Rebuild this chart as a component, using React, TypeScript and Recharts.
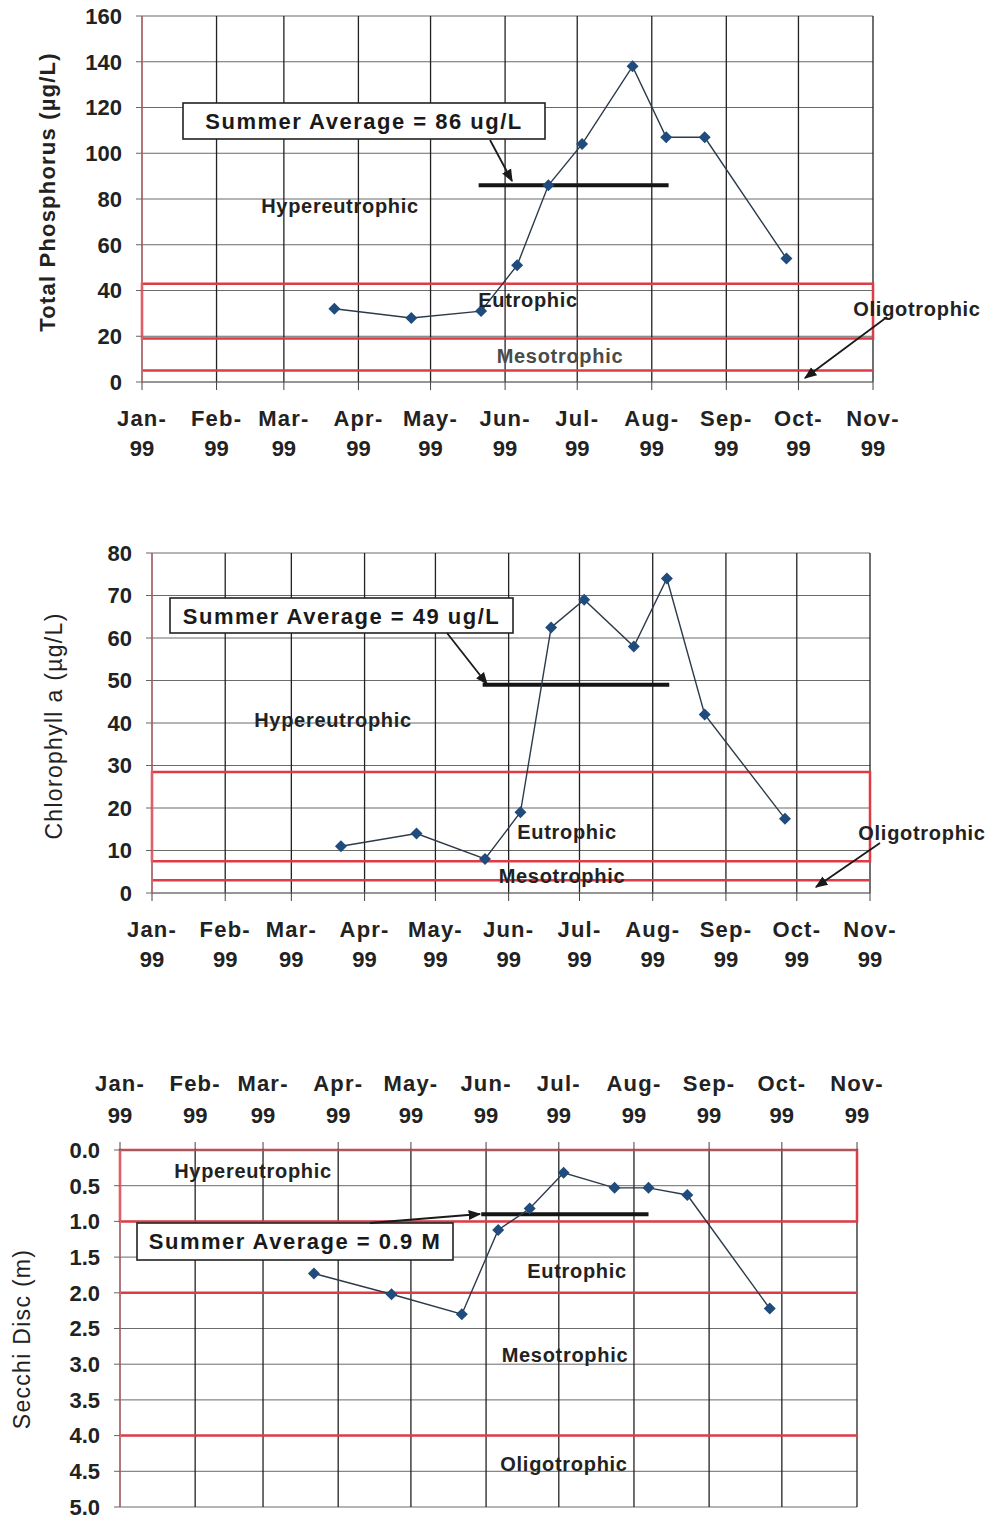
import React from "react";
import {
  LineChart,
  Line,
  XAxis,
  YAxis,
  CartesianGrid,
  ReferenceLine,
  ReferenceArea,
} from "recharts";

const FONT = '"Liberation Sans", Arial, Helvetica, sans-serif';
const RED = "#dd3b46";

// sampling dates as day of 1999 (0 = Jan 1)
const sampleDays = [80, 112, 141, 156, 169, 183, 204, 218, 234, 268];
const phosphorus = [32, 28, 31, 51, 86, 104, 138, 107, 107, 54];
const chlorophyll = [11, 14, 8, 19, 62.5, 69, 58, 74, 42, 17.5];
const secchi = [1.73, 2.02, 2.3, 1.12, 0.82, 0.32, 0.53, 0.53, 0.63, 2.22];

const monthStarts = [0, 31, 59, 90, 120, 151, 181, 212, 243, 273, 304];
const monthNames = ["Jan", "Feb", "Mar", "Apr", "May", "Jun", "Jul", "Aug", "Sep", "Oct", "Nov"];
const yearLabel = "99";

const tpTicks = [0, 20, 40, 60, 80, 100, 120, 140, 160];
const chlTicks = [0, 10, 20, 30, 40, 50, 60, 70, 80];
const secchiTicks = [0, 0.5, 1, 1.5, 2, 2.5, 3, 3.5, 4, 4.5, 5];

// trophic boundaries: [oligo/meso, meso/eu, eu/hyper]
const tpBounds = [5, 19, 43];
const chlBounds = [3, 7.5, 28.5];
const secchiBounds = [4, 2, 1];

const tpSummer = 86;
const chlSummer = 49;
const secchiSummer = 0.9;
const summerSpan = [140, 219];
const secchiSummerSpan = [149, 218];

const rows = (values: number[]) => sampleDays.map((day, i) => ({ day, value: values[i] }));

function MonthTick(props: any) {
  const { x, y, payload, top } = props;
  const i = monthStarts.indexOf(payload.value);
  const d1 = top ? -51 : 36;
  const d2 = top ? -19 : 66;
  const style = { fontFamily: FONT, fontWeight: 700, fontSize: 22, fill: "#222" };
  return (
    <g>
      <text x={x} y={y + d1} textAnchor="middle" letterSpacing={1.2} {...style}>
        {monthNames[i]}-
      </text>
      <text x={x} y={y + d2} textAnchor="middle" {...style}>
        {yearLabel}
      </text>
    </g>
  );
}

function Diamond(props: any) {
  const { cx, cy } = props;
  if (cx == null || cy == null) return <g />;
  const r = 6;
  return <path d={`M${cx},${cy - r}L${cx + r},${cy}L${cx},${cy + r}L${cx - r},${cy}Z`} fill="#1f4c7c" />;
}

type ChartProps = {
  top: number;
  height: number;
  margin: { top: number; right: number; bottom: number; left: number };
  yWidth: number;
  xHeight: number;
  xTop?: boolean;
  reversed?: boolean;
  domain: [number, number];
  ticks: number[];
  values: number[];
  box: [number, number];
  lines: number[];
  summer: number;
  span: number[];
  fmt?: (v: number) => string;
};

function TrophicChart(p: ChartProps) {
  return (
    <div style={{ position: "absolute", left: 0, top: p.top }}>
      <LineChart width={989} height={p.height} data={rows(p.values)} margin={p.margin}>
        <CartesianGrid horizontal={true} vertical={false} stroke="#6a6a6a" strokeWidth={1} />
        <CartesianGrid horizontal={false} vertical={true} stroke="#222" strokeWidth={1.3} />
        <XAxis
          dataKey="day"
          type="number"
          domain={[0, 304]}
          ticks={monthStarts}
          interval={0}
          orientation={p.xTop ? "top" : "bottom"}
          height={p.xHeight}
          tickSize={8}
          tickMargin={0}
          axisLine={{ stroke: "#777" }}
          tickLine={{ stroke: "#444" }}
          tick={(t: any) => <MonthTick {...t} top={p.xTop} />}
        />
        <YAxis
          type="number"
          domain={p.domain}
          ticks={p.ticks}
          interval={0}
          reversed={p.reversed}
          width={p.yWidth}
          tickSize={6}
          tickMargin={14}
          axisLine={{ stroke: "#e07a80", strokeWidth: 1.2 }}
          tickLine={{ stroke: "#666" }}
          tickFormatter={p.fmt}
          tick={{ fontFamily: FONT, fontWeight: 700, fontSize: 22, fill: "#222" }}
        />
        <ReferenceArea y1={p.box[0]} y2={p.box[1]} fill="none" stroke={RED} strokeWidth={2.5} />
        {p.lines.map((v) => (
          <ReferenceLine key={v} y={v} stroke={RED} strokeWidth={2.5} />
        ))}
        <ReferenceLine
          segment={[
            { x: p.span[0], y: p.summer },
            { x: p.span[1], y: p.summer },
          ]}
          stroke="#151515"
          strokeWidth={4}
        />
        <Line
          dataKey="value"
          stroke="#2c3a4a"
          strokeWidth={1.4}
          isAnimationActive={false}
          dot={(d: any) => <Diamond key={d.index} cx={d.cx} cy={d.cy} />}
        />
      </LineChart>
    </div>
  );
}

const noteStyle = { fontFamily: FONT, fontWeight: 700, fontSize: 20, fill: "#222", letterSpacing: 0.7 } as const;
const boxText = { fontFamily: FONT, fontWeight: 700, fontSize: 22, fill: "#1a1a1a", letterSpacing: 1.5 } as const;

function Note({ x, y, t, fill }: { x: number; y: number; t: string; fill?: string }) {
  return (
    <text x={x} y={y} textAnchor="middle" {...noteStyle} fill={fill || "#222"}>
      {t}
    </text>
  );
}

function AvgBox({ x, y, w, h, t, base }: { x: number; y: number; w: number; h: number; t: string; base: number }) {
  return (
    <g>
      <rect x={x} y={y} width={w} height={h} fill="#fff" stroke="#222" strokeWidth={1.6} />
      <text x={x + w / 2} y={base} textAnchor="middle" {...boxText}>
        {t}
      </text>
    </g>
  );
}

function Arrow({ x1, y1, x2, y2 }: { x1: number; y1: number; x2: number; y2: number }) {
  return <line x1={x1} y1={y1} x2={x2} y2={y2} stroke="#1a1a1a" strokeWidth={1.8} markerEnd="url(#ah)" />;
}

export default function App() {
  return (
    <div style={{ position: "absolute", left: 0, top: 0, width: 989, height: 1519, background: "#fff", overflow: "hidden" }}>
      <TrophicChart
        top={0}
        height={480}
        margin={{ top: 16, right: 116, bottom: 0, left: 0 }}
        yWidth={142}
        xHeight={98}
        domain={[0, 160]}
        ticks={tpTicks}
        values={phosphorus}
        box={[tpBounds[1], tpBounds[2]]}
        lines={[tpBounds[0]]}
        summer={tpSummer}
        span={summerSpan}
      />
      <TrophicChart
        top={500}
        height={490}
        margin={{ top: 53, right: 119, bottom: 0, left: 0 }}
        yWidth={152}
        xHeight={97}
        domain={[0, 80]}
        ticks={chlTicks}
        values={chlorophyll}
        box={[chlBounds[1], chlBounds[2]]}
        lines={[chlBounds[0]]}
        summer={chlSummer}
        span={summerSpan}
      />
      <TrophicChart
        top={1010}
        height={509}
        margin={{ top: 0, right: 132, bottom: 12, left: 0 }}
        yWidth={120}
        xHeight={140}
        xTop
        reversed
        domain={[0, 5]}
        ticks={secchiTicks}
        values={secchi}
        box={[0, secchiBounds[2]]}
        lines={[secchiBounds[1], secchiBounds[0]]}
        summer={secchiSummer}
        span={secchiSummerSpan}
        fmt={(v: number) => v.toFixed(1)}
      />
      <svg
        width={989}
        height={1519}
        style={{ position: "absolute", left: 0, top: 0, pointerEvents: "none" }}
      >
        <defs>
          <marker id="ah" viewBox="0 0 10 10" refX="9" refY="5" markerWidth="7" markerHeight="7" orient="auto">
            <path d="M0,1L10,5L0,9Z" fill="#1a1a1a" />
          </marker>
        </defs>

        {/* axis titles */}
        <text
          transform="translate(47,192) rotate(-90)"
          textAnchor="middle"
          dominantBaseline="central"
          fontFamily={FONT}
          fontWeight={700}
          fontSize={22}
          letterSpacing={1.2}
          fill="#222"
        >
          Total Phosphorus (µg/L)
        </text>
        <text
          transform="translate(54,726) rotate(-90)"
          textAnchor="middle"
          dominantBaseline="central"
          fontFamily={FONT}
          fontSize={23}
          letterSpacing={1.3}
          fill="#222"
        >
          Chlorophyll a (µg/L)
        </text>
        <text
          transform="translate(22,1339) rotate(-90)"
          textAnchor="middle"
          dominantBaseline="central"
          fontFamily={FONT}
          fontSize={23}
          letterSpacing={1.3}
          fill="#222"
        >
          Secchi Disc (m)
        </text>

        {/* chart 1 notes */}
        <AvgBox x={183} y={103} w={362} h={36} t="Summer Average = 86 ug/L" base={128.5} />
        <Arrow x1={490} y1={140} x2={512} y2={181} />
        <Note x={340} y={213} t="Hypereutrophic" />
        <Note x={528} y={306.5} t="Eutrophic" />
        <Note x={560} y={362.5} t="Mesotrophic" fill="#4a4a4a" />
        <Note x={917} y={316} t="Oligotrophic" />
        <Arrow x1={887} y1={317} x2={805} y2={378} />

        {/* chart 2 notes */}
        <AvgBox x={170} y={598} w={343} h={35} t="Summer Average = 49 ug/L" base={623.5} />
        <Arrow x1={447} y1={633} x2={487} y2={684} />
        <Note x={333} y={727} t="Hypereutrophic" />
        <Note x={567} y={839} t="Eutrophic" />
        <Note x={562} y={883} t="Mesotrophic" />
        <Note x={922} y={840} t="Oligotrophic" />
        <Arrow x1={880} y1={843} x2={816} y2={887} />

        {/* chart 3 notes */}
        <AvgBox x={137} y={1223} w={316} h={37} t="Summer Average = 0.9 M" base={1249} />
        <Arrow x1={370} y1={1223} x2={480} y2={1214} />
        <Note x={253} y={1178} t="Hypereutrophic" />
        <Note x={577} y={1278} t="Eutrophic" />
        <Note x={565} y={1361.5} t="Mesotrophic" />
        <Note x={564} y={1470.5} t="Oligotrophic" />
      </svg>
    </div>
  );
}
